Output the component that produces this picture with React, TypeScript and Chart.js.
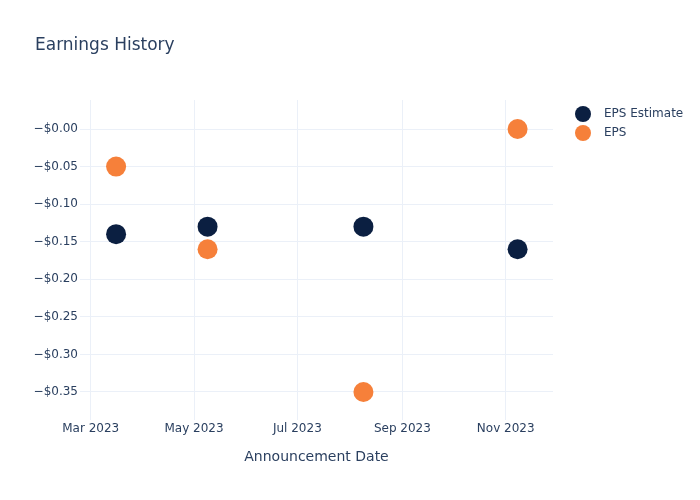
import { useEffect, useRef } from "react";
import { Chart, registerables } from "chart.js";

Chart.register(...registerables);

const chartTitle = "Earnings History";
const xAxisTitle = "Announcement Date";
const announcementDates = ["2023-03-16", "2023-05-09", "2023-08-09", "2023-11-08"];
const epsEstimate = [-0.14, -0.13, -0.13, -0.16];
const epsActual = [-0.05, -0.16, -0.35, 0.0];
const seriesLabels = ["EPS Estimate", "EPS"];
const seriesColors = ["#0b1f41", "#f6803a"];
const xTickDates = ["2023-03-01", "2023-05-01", "2023-07-01", "2023-09-01", "2023-11-01"];
const xTickLabels = ["Mar 2023", "May 2023", "Jul 2023", "Sep 2023", "Nov 2023"];
const yTickValues = [0, -0.05, -0.1, -0.15, -0.2, -0.25, -0.3, -0.35];

const DAY = 86400000;
const FONT = "'DejaVu Sans', sans-serif";
const TEXT = "#2a3f5f";
const GRID = "#ebf0f8";

export default function App() {
  const ref = useRef<HTMLCanvasElement | null>(null);

  useEffect(() => {
    if (!ref.current) return;
    const xs = announcementDates.map((d) => Date.parse(d));
    const tickTs = xTickDates.map((d) => Date.parse(d));

    const overlay = {
      id: "overlay",
      afterDraw(chart: any) {
        const ctx = chart.ctx;
        ctx.save();
        ctx.fillStyle = TEXT;
        ctx.font = `17px ${FONT}`;
        ctx.textAlign = "left";
        ctx.textBaseline = "alphabetic";
        ctx.fillText(chartTitle, 35, 50);
        chart.data.datasets.forEach((ds: any, i: number) => {
          const y = 114 + i * 19;
          ctx.beginPath();
          ctx.fillStyle = ds.backgroundColor;
          ctx.arc(583, y, 8, 0, Math.PI * 2);
          ctx.fill();
          ctx.fillStyle = TEXT;
          ctx.font = `12px ${FONT}`;
          ctx.textBaseline = "middle";
          ctx.fillText(ds.label, 604, y);
        });
        ctx.restore();
      },
    };

    const chart = new Chart(ref.current, {
      type: "scatter",
      data: {
        datasets: [
          {
            label: seriesLabels[0],
            data: xs.map((x, i) => ({ x, y: epsEstimate[i] })),
            backgroundColor: seriesColors[0],
            borderColor: seriesColors[0],
            pointRadius: 10,
            pointHoverRadius: 10,
            borderWidth: 0,
            order: 2,
          },
          {
            label: seriesLabels[1],
            data: xs.map((x, i) => ({ x, y: epsActual[i] })),
            backgroundColor: seriesColors[1],
            borderColor: seriesColors[1],
            pointRadius: 10,
            pointHoverRadius: 10,
            borderWidth: 0,
            order: 1,
          },
        ],
      },
      options: {
        animation: false,
        responsive: false,
        devicePixelRatio: 1,
        layout: { padding: { top: 100, right: 147, left: 0, bottom: 0 } },
        plugins: {
          legend: { display: false },
          title: { display: false },
          tooltip: { enabled: false },
        },
        scales: {
          x: {
            type: "linear",
            min: tickTs[0] - 6.3 * DAY,
            max: tickTs[4] + 27.9 * DAY,
            afterBuildTicks: (scale: any) => {
              scale.ticks = tickTs.map((v) => ({ value: v }));
            },
            afterFit: (scale: any) => {
              scale.height = 80;
            },
            grid: { color: GRID, drawTicks: false, lineWidth: 1 },
            border: { display: false },
            ticks: {
              autoSkip: false,
              maxRotation: 0,
              padding: 2,
              color: TEXT,
              font: { family: FONT, size: 12 },
              callback: (v: any) => {
                const idx = tickTs.indexOf(Number(v));
                return idx >= 0 ? xTickLabels[idx] : "";
              },
            },
            title: {
              display: true,
              text: xAxisTitle,
              color: TEXT,
              font: { family: FONT, size: 14 },
              padding: { top: 0, bottom: 34 },
            },
          },
          y: {
            type: "linear",
            min: -0.3873,
            max: 0.0386,
            afterBuildTicks: (scale: any) => {
              scale.ticks = yTickValues.map((v) => ({ value: v }));
            },
            afterFit: (scale: any) => {
              scale.width = 80;
            },
            grid: { color: GRID, drawTicks: false, lineWidth: 1 },
            border: { display: false },
            ticks: {
              autoSkip: false,
              padding: 2,
              color: TEXT,
              font: { family: FONT, size: 12 },
              callback: (v: any) => "\u2212$" + Math.abs(Number(v)).toFixed(2),
            },
          },
        },
      },
      plugins: [overlay],
    });
    return () => chart.destroy();
  }, []);

  return (
    <div style={{ position: "absolute", left: 0, top: 0, width: 700, height: 500, background: "#fff" }}>
      <canvas ref={ref} width={700} height={500} />
    </div>
  );
}
